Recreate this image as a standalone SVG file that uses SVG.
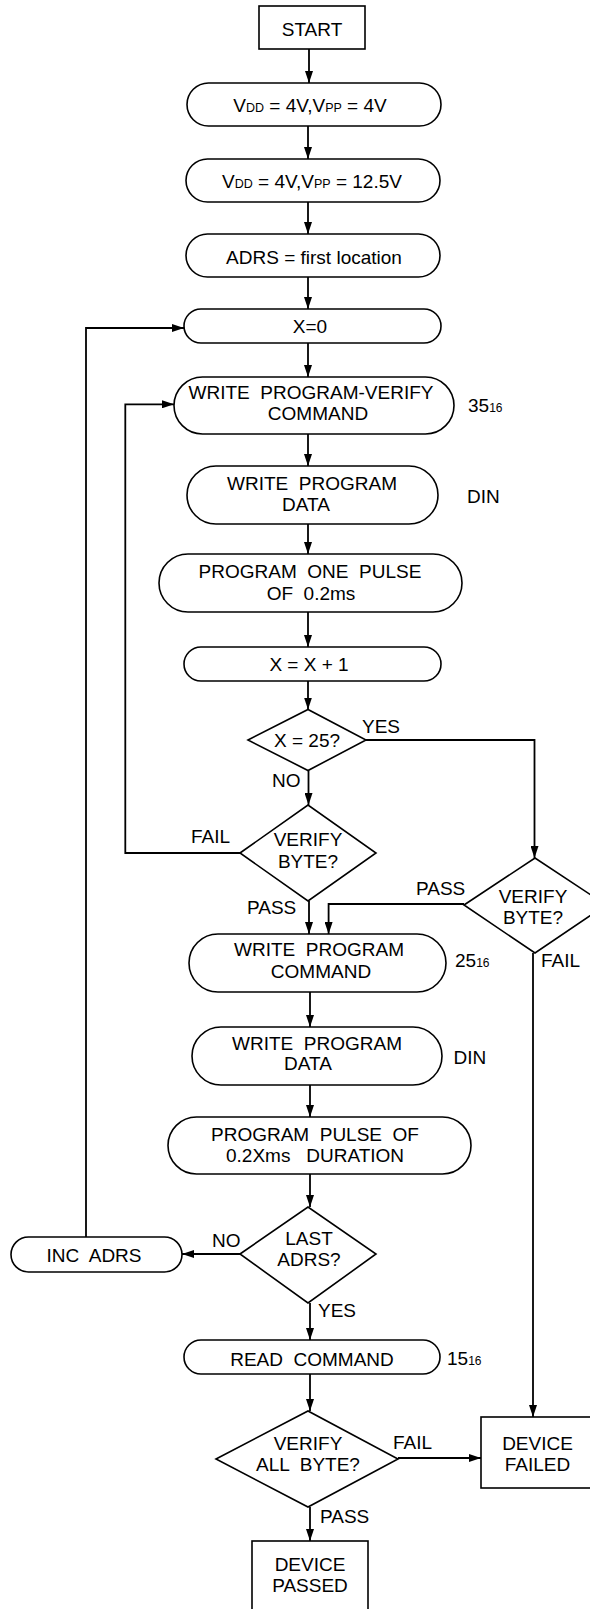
<svg xmlns="http://www.w3.org/2000/svg" width="590" height="1609" viewBox="0 0 590 1609">
<style>
  .shape { fill: #fff; stroke: #000; stroke-width: 1.6; }
  .conn { fill: none; stroke: #000; stroke-width: 1.8; }
  text { font-family: "Liberation Sans", Arial, sans-serif; font-size: 19px; fill: #000; }
  .c { text-anchor: middle; }
  .sm { font-size: 12.5px; }
  .sub { font-size: 12px; }
</style>
<defs>
  <marker id="ah" markerWidth="12" markerHeight="8" refX="12" refY="4" orient="auto" markerUnits="userSpaceOnUse">
    <path d="M0,0 L12,4 L0,8 z" fill="#000"/>
  </marker>
</defs>
<rect width="590" height="1609" fill="#fff"/>

<g id="connectors">
  <path class="conn" d="M309,49 V83" marker-end="url(#ah)"/>
  <path class="conn" d="M308,126 V159" marker-end="url(#ah)"/>
  <path class="conn" d="M308,202 V234" marker-end="url(#ah)"/>
  <path class="conn" d="M308,277 V309" marker-end="url(#ah)"/>
  <path class="conn" d="M308,343 V377" marker-end="url(#ah)"/>
  <path class="conn" d="M308,434 V466" marker-end="url(#ah)"/>
  <path class="conn" d="M308,524 V554" marker-end="url(#ah)"/>
  <path class="conn" d="M308,612 V647" marker-end="url(#ah)"/>
  <path class="conn" d="M308,681 V709.5" marker-end="url(#ah)"/>
  <path class="conn" d="M308.5,770.5 V805" marker-end="url(#ah)"/>
  <path class="conn" d="M366,740 H534.5 V858" marker-end="url(#ah)"/>
  <path class="conn" d="M240,853 H125.3 V404.3 H174" marker-end="url(#ah)"/>
  <path class="conn" d="M309,901 V934" marker-end="url(#ah)"/>
  <path class="conn" d="M464,904 H328.6 V934" marker-end="url(#ah)"/>
  <path class="conn" d="M533,953 V1417" marker-end="url(#ah)"/>
  <path class="conn" d="M310,992 V1027" marker-end="url(#ah)"/>
  <path class="conn" d="M310,1085 V1117" marker-end="url(#ah)"/>
  <path class="conn" d="M310,1174 V1207" marker-end="url(#ah)"/>
  <path class="conn" d="M240,1254 H182" marker-end="url(#ah)"/>
  <path class="conn" d="M86,1237 V328 H184" marker-end="url(#ah)"/>
  <path class="conn" d="M310,1303 V1340" marker-end="url(#ah)"/>
  <path class="conn" d="M310,1374 V1411" marker-end="url(#ah)"/>
  <path class="conn" d="M398,1458 H481" marker-end="url(#ah)"/>
  <path class="conn" d="M310,1507 V1541" marker-end="url(#ah)"/>

  <text x="362" y="733">YES</text>
  <text x="272" y="787">NO</text>
  <text x="191" y="843">FAIL</text>
  <text x="247" y="914">PASS</text>
  <text x="416" y="895">PASS</text>
  <text x="541" y="967">FAIL</text>
  <text x="212" y="1247">NO</text>
  <text x="318" y="1317">YES</text>
  <text x="393" y="1449">FAIL</text>
  <text x="320" y="1523">PASS</text>
</g>

<g id="start">
  <rect class="shape" x="259" y="6" width="106" height="43"/>
  <text class="c" x="312" y="36">START</text>
</g>

<g id="vdd4-vpp4">
  <rect class="shape" x="187" y="83" width="254" height="43" rx="21.5"/>
  <text class="c" x="310" y="112">V<tspan class="sm">DD</tspan> = 4V,V<tspan class="sm">PP</tspan> = 4V</text>
</g>

<g id="vdd4-vpp125">
  <rect class="shape" x="186" y="159" width="254" height="43" rx="21.5"/>
  <text class="c" x="312" y="188">V<tspan class="sm">DD</tspan> = 4V,V<tspan class="sm">PP</tspan> = 12.5V</text>
</g>

<g id="adrs-first">
  <rect class="shape" x="186" y="234" width="254" height="43" rx="21.5"/>
  <text class="c" x="314" y="264">ADRS = first location</text>
</g>

<g id="x-zero">
  <rect class="shape" x="184" y="309" width="257" height="34" rx="17"/>
  <text class="c" x="310" y="333">X=0</text>
</g>

<g id="write-pv-cmd">
  <rect class="shape" x="174" y="377" width="280" height="57" rx="28.5"/>
  <text class="c" x="311" y="398.5" xml:space="preserve">WRITE  PROGRAM-VERIFY</text>
  <text class="c" x="318" y="420">COMMAND</text>
  <text x="468" y="412">35<tspan class="sub">16</tspan></text>
</g>

<g id="write-data-1">
  <rect class="shape" x="187" y="466" width="251" height="58" rx="29"/>
  <text class="c" x="312" y="489.5" xml:space="preserve">WRITE  PROGRAM</text>
  <text class="c" x="306" y="511">DATA</text>
  <text x="467" y="503">DIN</text>
</g>

<g id="program-one-pulse">
  <rect class="shape" x="159" y="554" width="303" height="58" rx="29"/>
  <text class="c" x="310" y="577.5" xml:space="preserve">PROGRAM  ONE  PULSE</text>
  <text class="c" x="311" y="599.5" xml:space="preserve">OF  0.2ms</text>
</g>

<g id="x-inc">
  <rect class="shape" x="184" y="647" width="257" height="34" rx="17"/>
  <text class="c" x="309" y="670.5">X = X + 1</text>
</g>

<g id="x-eq-25">
  <polygon class="shape" points="248,740 308,709.5 366,740 308,770.5"/>
  <text class="c" x="307" y="747">X = 25?</text>
</g>

<g id="verify-byte-1">
  <polygon class="shape" points="240,853 308,805 376,853 308,901"/>
  <text class="c" x="308" y="845.5">VERIFY</text>
  <text class="c" x="308" y="867.5">BYTE?</text>
</g>

<g id="verify-byte-2">
  <polygon class="shape" points="464,905 535,858 606,905 535,953"/>
  <text class="c" x="533" y="903">VERIFY</text>
  <text class="c" x="533" y="923.5">BYTE?</text>
</g>

<g id="write-prog-cmd">
  <rect class="shape" x="189" y="934" width="257" height="58" rx="29"/>
  <text class="c" x="319" y="956" xml:space="preserve">WRITE  PROGRAM</text>
  <text class="c" x="321" y="977.5">COMMAND</text>
  <text x="455" y="967">25<tspan class="sub">16</tspan></text>
</g>

<g id="write-data-2">
  <rect class="shape" x="192" y="1027" width="250" height="58" rx="29"/>
  <text class="c" x="317" y="1049.5" xml:space="preserve">WRITE  PROGRAM</text>
  <text class="c" x="308" y="1070">DATA</text>
  <text x="453.5" y="1063.5">DIN</text>
</g>

<g id="program-pulse-duration">
  <rect class="shape" x="168" y="1117" width="303" height="57" rx="28.5"/>
  <text class="c" x="315" y="1141" xml:space="preserve">PROGRAM  PULSE  OF</text>
  <text class="c" x="315" y="1162" xml:space="preserve">0.2Xms   DURATION</text>
</g>

<g id="last-adrs">
  <polygon class="shape" points="240,1254 308,1207 376,1254 308,1303"/>
  <text class="c" x="309" y="1245">LAST</text>
  <text class="c" x="309" y="1266">ADRS?</text>
</g>

<g id="inc-adrs">
  <rect class="shape" x="11" y="1237" width="171" height="35" rx="17.5"/>
  <text class="c" x="94" y="1262" xml:space="preserve">INC  ADRS</text>
</g>

<g id="read-cmd">
  <rect class="shape" x="184" y="1340" width="256" height="34" rx="17"/>
  <text class="c" x="312" y="1366" xml:space="preserve">READ  COMMAND</text>
  <text x="447" y="1365">15<tspan class="sub">16</tspan></text>
</g>

<g id="verify-all">
  <polygon class="shape" points="216,1459 308,1411 398,1459 308,1507"/>
  <text class="c" x="308" y="1449.5">VERIFY</text>
  <text class="c" x="308" y="1471" xml:space="preserve">ALL  BYTE?</text>
</g>

<g id="device-failed">
  <rect class="shape" x="481" y="1417" width="116" height="71"/>
  <text class="c" x="537.5" y="1449.5">DEVICE</text>
  <text class="c" x="537.5" y="1470.5">FAILED</text>
</g>

<g id="device-passed">
  <rect class="shape" x="252" y="1541" width="116" height="75"/>
  <text class="c" x="310" y="1571">DEVICE</text>
  <text class="c" x="310" y="1592">PASSED</text>
</g>
</svg>
